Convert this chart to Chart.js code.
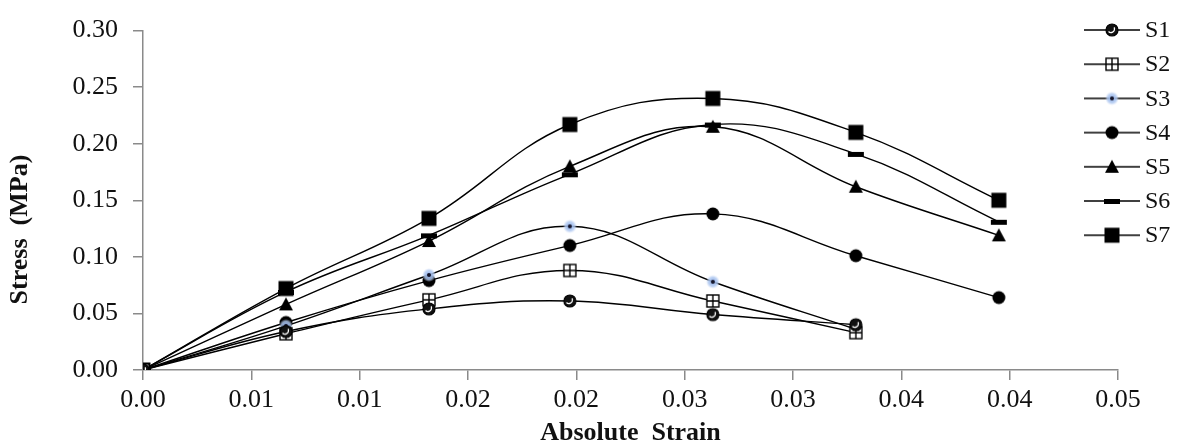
<!DOCTYPE html>
<html>
<head>
<meta charset="utf-8">
<script src="https://cdn.jsdelivr.net/npm/chart.js@4/dist/chart.umd.min.js"></script>
<style>
    html, body { margin: 0; padding: 0; background: #fff; }
    #wrap { width: 1180px; height: 446px; }
</style>
</head>
<body>
<div id="wrap"><canvas id="canvas" width="1180" height="446"></canvas></div>
<script>
const strain = [0, 0.0066, 0.0132, 0.0197, 0.0263, 0.0329, 0.0395];
const seriesNames = ['S1', 'S2', 'S3', 'S4', 'S5', 'S6', 'S7'];
const s1 = [0, 0.034, 0.054, 0.061, 0.049, 0.040];
const s2 = [0, 0.032, 0.062, 0.088, 0.061, 0.033];
const s3 = [0, 0.039, 0.084, 0.127, 0.078, 0.036];
const s4 = [0, 0.042, 0.079, 0.110, 0.138, 0.101, 0.064];
const s5 = [0, 0.058, 0.114, 0.180, 0.215, 0.162, 0.119];
const s6 = [0, 0.069, 0.119, 0.173, 0.217, 0.191, 0.131];
const s7 = [0, 0.072, 0.134, 0.217, 0.240, 0.210, 0.150];
const xTickLabels = ['0.00', '0.01', '0.01', '0.02', '0.02', '0.03', '0.03', '0.04', '0.04', '0.05'];
const yTickLabels = ['0.00', '0.05', '0.10', '0.15', '0.20', '0.25', '0.30'];

const axisColor = '#8a8a8a';
const textColor = '#111';

// little canvases used as point styles
function makeMarker(kind) {
    const c = document.createElement('canvas');
    c.width = 18;
    c.height = 18;
    const g = c.getContext('2d');
    g.fillStyle = '#000';
    g.strokeStyle = '#000';
    if (kind === 'S1') {
        g.beginPath();
        g.arc(9, 9, 6, 0, Math.PI * 2);
        g.fillStyle = '#111';
        g.fill();
        g.lineWidth = 1.2;
        g.stroke();
        g.beginPath();
        g.arc(8, 8, 3.5, -0.15 * Math.PI, 0.75 * Math.PI);
        g.strokeStyle = '#fff';
        g.lineWidth = 1.3;
        g.stroke();
    } else if (kind === 'S2') {
        g.fillStyle = '#fff';
        g.fillRect(3, 3, 12, 12);
        g.lineWidth = 1.4;
        g.strokeRect(3, 3, 12, 12);
        g.beginPath();
        g.moveTo(9, 3); g.lineTo(9, 15);
        g.moveTo(3, 9); g.lineTo(15, 9);
        g.stroke();
    } else if (kind === 'S3') {
        const grd = g.createRadialGradient(9, 9, 1, 9, 9, 7);
        grd.addColorStop(0, 'rgba(150,180,235,1)');
        grd.addColorStop(0.6, 'rgba(175,200,240,0.8)');
        grd.addColorStop(1, 'rgba(200,215,245,0)');
        g.fillStyle = grd;
        g.beginPath();
        g.arc(9, 9, 7, 0, Math.PI * 2);
        g.fill();
        g.fillStyle = '#141428';
        g.beginPath();
        g.arc(9, 9, 2, 0, Math.PI * 2);
        g.fill();
    } else if (kind === 'S4') {
        g.beginPath();
        g.arc(9, 9, 6.5, 0, Math.PI * 2);
        g.fill();
    } else if (kind === 'S5') {
        g.beginPath();
        g.moveTo(9, 2);
        g.lineTo(16, 15);
        g.lineTo(2, 15);
        g.closePath();
        g.fill();
    } else if (kind === 'S6') {
        g.fillRect(1, 7, 16, 5);
    } else {
        g.fillRect(1.5, 1.5, 15, 15);
    }
    return c;
}

function makeLegendIcon(marker) {
    const c = document.createElement('canvas');
    c.width = 56;
    c.height = 18;
    const g = c.getContext('2d');
    g.strokeStyle = '#000';
    g.lineWidth = 1.5;
    g.beginPath();
    g.moveTo(0, 9);
    g.lineTo(56, 9);
    g.stroke();
    g.drawImage(marker, 19, 0);
    return c;
}

const allValues = [s1, s2, s3, s4, s5, s6, s7];
const markers = seriesNames.map(makeMarker);
const legendIcons = markers.map(makeLegendIcon);

const datasets = seriesNames.map((name, i) => ({
    label: name,
    data: allValues[i].map((v, j) => ({ x: strain[j], y: v })),
    borderColor: '#000',
    backgroundColor: '#000',
    borderWidth: 1.4,
    tension: 0.4,
    pointStyle: markers[i],
    pointRadius: 7,
    fill: false
}));

const legendPlugin = {
    id: 'sideLegend',
    afterDraw(chart) {
        const ctx = chart.ctx;
        ctx.save();
        ctx.font = '24px "Liberation Serif"';
        ctx.fillStyle = textColor;
        ctx.textBaseline = 'middle';
        seriesNames.forEach((name, i) => {
            const y = 30 + i * 34.2;
            ctx.drawImage(legendIcons[i], 1084, y - 9);
            ctx.fillText(name, 1145, y + 1);
        });
        ctx.restore();
    }
};

const ctx = document.getElementById('canvas').getContext('2d');
const chart = new Chart(ctx, {
    type: 'line',
    data: { datasets: datasets },
    plugins: [legendPlugin],
    options: {
        responsive: false,
        animation: false,
        layout: { padding: { top: 19, right: 62, left: 0, bottom: 0 } },
        plugins: {
            legend: { display: false },
            tooltip: { enabled: false }
        },
        scales: {
            x: {
                type: 'linear',
                min: 0,
                max: 0.045,
                afterBuildTicks: (scale) => {
                    scale.ticks = xTickLabels.map((t, i) => ({ value: i * 0.005 }));
                },
                afterFit: (scale) => { scale.height = 76; },
                ticks: {
                    callback: (value, index) => xTickLabels[index],
                    font: { family: 'Liberation Serif', size: 26 },
                    color: textColor,
                    padding: 5,
                    maxRotation: 0,
                    autoSkip: false
                },
                grid: { drawOnChartArea: false, tickLength: 10, color: axisColor, lineWidth: 1.5 },
                border: { color: axisColor, width: 1.5 },
                title: {
                    display: true,
                    text: 'Absolute  Strain',
                    font: { family: 'Liberation Serif', size: 26, weight: 'bold', lineHeight: 1 },
                    color: textColor,
                    padding: { top: 0, bottom: 0 }
                }
            },
            y: {
                min: 0,
                max: 0.3,
                afterBuildTicks: (scale) => {
                    scale.ticks = yTickLabels.map((t, i) => ({ value: i * 0.05 }));
                },
                afterFit: (scale) => { scale.width = 143; },
                ticks: {
                    callback: (value, index) => yTickLabels[index],
                    font: { family: 'Liberation Serif', size: 26 },
                    color: textColor,
                    padding: 15
                },
                grid: { drawOnChartArea: false, tickLength: 10, color: axisColor, lineWidth: 1.5 },
                border: { color: axisColor, width: 1.5 },
                title: {
                    display: true,
                    text: 'Stress  (MPa)         ',
                    font: { family: 'Liberation Serif', size: 26, weight: 'bold', lineHeight: 1.2 },
                    color: textColor,
                    padding: { top: 5, bottom: 0 }
                }
            }
        }
    }
});
</script>
</body>
</html>
